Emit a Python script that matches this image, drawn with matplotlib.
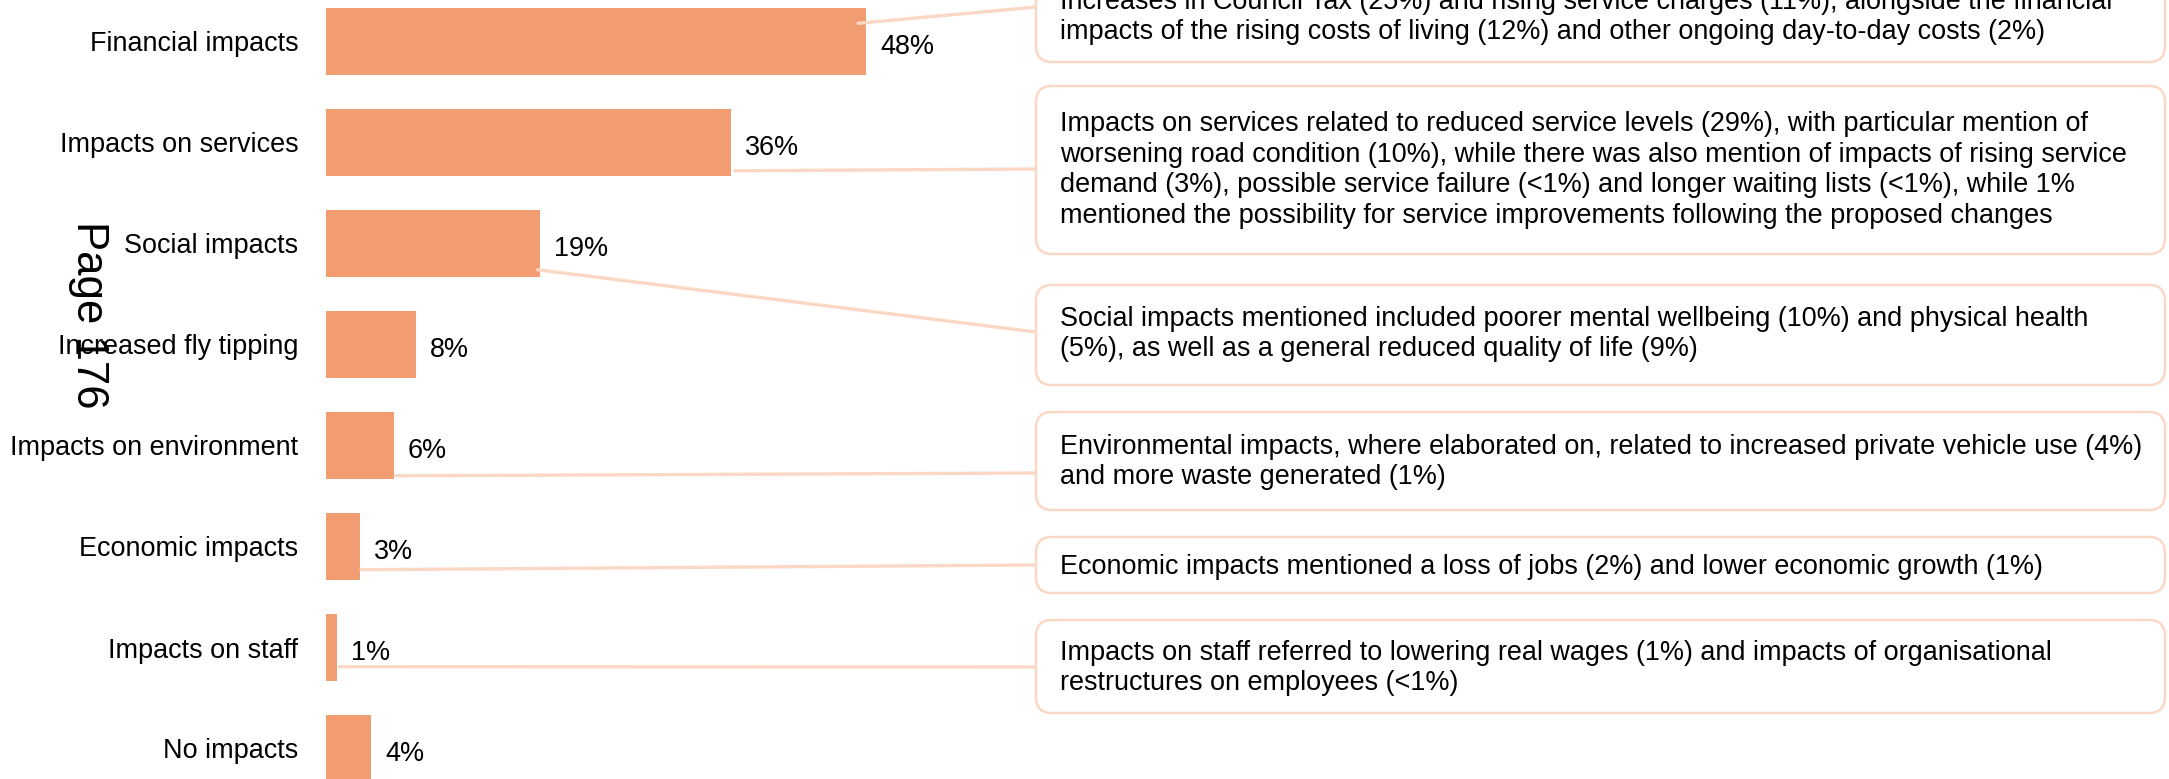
import matplotlib
matplotlib.use("Agg")
from matplotlib import pyplot as plt
from matplotlib import transforms
from matplotlib.patches import FancyBboxPatch, ConnectionPatch

categories = ["Financial impacts", "Impacts on services", "Social impacts",
              "Increased fly tipping", "Impacts on environment", "Economic impacts",
              "Impacts on staff", "No impacts"]
values = [48, 36, 19, 8, 6, 3, 1, 4]
notes = [
    "Increases in Council Tax (25%) and rising service charges (11%), alongside the financial\n"
    "impacts of the rising costs of living (12%) and other ongoing day-to-day costs (2%)",
    "Impacts on services related to reduced service levels (29%), with particular mention of\n"
    "worsening road condition (10%), while there was also mention of impacts of rising service\n"
    "demand (3%), possible service failure (<1%) and longer waiting lists (<1%), while 1%\n"
    "mentioned the possibility for service improvements following the proposed changes",
    "Social impacts mentioned included poorer mental wellbeing (10%) and physical health\n"
    "(5%), as well as a general reduced quality of life (9%)",
    None,
    "Environmental impacts, where elaborated on, related to increased private vehicle use (4%)\n"
    "and more waste generated (1%)",
    "Economic impacts mentioned a loss of jobs (2%) and lower economic growth (1%)",
    "Impacts on staff referred to lowering real wages (1%) and impacts of organisational\n"
    "restructures on employees (<1%)",
    None,
]
page_label = "Page 176"

W, H, DPI = 2169, 779, 100
BAR = "#F29C71"
LINE = "#FAD8C5"
FS = 19.45

# layout, in pixels from the top-left corner
box_left, box_right = 1036, 2165
box_span = [(-40, 62), (86, 254), (285, 385), None, (412, 510), (537, 593), (620, 713), None]
text_y = [17, 170, 334, None, 462, 567, 668, None]
link_start = [(-0.7, -0.18), (0.35, 0.28), (-0.2, 0.26), None, (0.15, 0.30), (0.1, 0.23), (0.2, 0.19), None]
link_end = [7, 169, 332, None, 473, 565, 667, None]

plt.rcParams['font.family'] = ['Liberation Sans', 'DejaVu Sans']

fig = plt.figure(figsize=(W / DPI, H / DPI), dpi=DPI, facecolor="white")
px = transforms.Affine2D().scale(1 / DPI, -1 / DPI).translate(0, H / DPI) + fig.dpi_scale_trans

x0 = 326
px_per_pct = 11.25
row = 101
ax = fig.add_axes([x0 / W, 0, 1 - x0 / W, 1])
ax.set_xlim(0, (W - x0) / px_per_pct)
ax.set_ylim((H - 41.5) / row, -41.5 / row)
ax.barh(range(len(values)), values, height=0.665, color=BAR)
ax.set_yticks(range(len(categories)), categories)
ax.tick_params(axis='y', length=0, pad=19.9, labelsize=FS)
ax.xaxis.set_visible(False)
for s in ax.spines.values():
    s.set_visible(False)
ax.patch.set_alpha(0)

for i, v in enumerate(values):
    ax.text(v + 1.25, i + 0.05, f"{v}%", va='center', ha='left', fontsize=FS)

for i, note in enumerate(notes):
    if note is None:
        continue
    top, bottom = box_span[i]
    dx, dy = link_start[i]
    link = ConnectionPatch(xyA=(values[i] + dx, i + dy), coordsA='data', axesA=ax,
                           xyB=(box_left, link_end[i]), coordsB=px,
                           color=LINE, lw=2.4, zorder=2)
    fig.add_artist(link)
    box = FancyBboxPatch((box_left, top), box_right - box_left, bottom - top,
                         boxstyle="round,pad=0,rounding_size=16", transform=px,
                         fc="white", ec=LINE, lw=1.8, zorder=3)
    fig.add_artist(box)
    fig.text(1060, text_y[i], note, transform=px, ha='left', va='center',
             fontsize=FS, linespacing=1.22, zorder=4)

fig.text(88.5, 315, page_label, transform=px, rotation=270, ha='center', va='center',
         fontsize=31.5, zorder=5)

fig.savefig("out.png", dpi=DPI, facecolor="white")
